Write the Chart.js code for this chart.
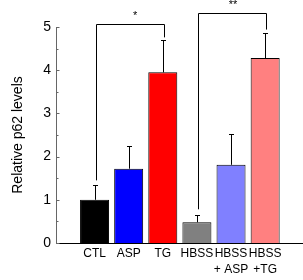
<!DOCTYPE html>
<html>
<head>
<meta charset="utf-8">
<script src="https://cdn.jsdelivr.net/npm/chart.js@4/dist/chart.umd.min.js"></script>
<style>
html,body{margin:0;padding:0;background:#fff;}
#wrap{width:303px;height:280px;}
</style>
</head>
<body>
<div id="wrap"><canvas id="c" width="303" height="280"></canvas></div>
<script>
const categories = [["CTL"], ["ASP"], ["TG"], ["HBSS"], ["HBSS", "+ ASP"], ["HBSS", "+TG"]];
const values = [1.0, 1.72, 3.95, 0.48, 1.81, 4.28];
const errorsUp = [0.35, 0.52, 0.74, 0.16, 0.72, 0.57];
const barColors = ["#000000", "#0000ff", "#ff0000", "#808080", "#8080ff", "#ff8080"];
const yTicks = [0, 1, 2, 3, 4, 5];
const yMinorTicks = [0.5, 1.5, 2.5, 3.5, 4.5];
// significance brackets: from/to category index, top value, leg end values, star text and position
const brackets = [
  {from: 0, to: 2, top: 5.06, leftEnd: 1.45, rightEnd: 4.76, text: "*", textX: 1.19, textY: 5.25},
  {from: 3, to: 5, top: 5.32, leftEnd: 0.78, rightEnd: 4.94, text: "**", textX: 4.06, textY: 5.5}
];

const FONT = "'Liberation Sans', Arial, sans-serif";

const extras = {
  id: 'extras',
  afterDatasetsDraw(chart) {
    const ctx = chart.ctx;
    const xs = chart.scales.x, ys = chart.scales.y;
    ctx.save();
    ctx.strokeStyle = '#000';
    ctx.lineWidth = 1;
    values.forEach((v, i) => {
      const x = Math.round(xs.getPixelForValue(i)) + 0.5;
      const y0 = ys.getPixelForValue(v);
      const y1 = Math.round(ys.getPixelForValue(v + errorsUp[i])) + 0.5;
      ctx.beginPath();
      ctx.moveTo(x, y0);
      ctx.lineTo(x, y1);
      ctx.moveTo(x - 2.5, y1);
      ctx.lineTo(x + 2.5, y1);
      ctx.stroke();
    });
    ctx.restore();
  },
  afterDraw(chart) {
    const ctx = chart.ctx;
    const xs = chart.scales.x, ys = chart.scales.y;
    const axX = Math.round(chart.chartArea.left) + 0.5;
    ctx.save();
    ctx.strokeStyle = '#666';
    ctx.lineWidth = 1;
    yTicks.forEach(t => {
      const y = Math.round(ys.getPixelForValue(t)) + 0.5;
      ctx.beginPath(); ctx.moveTo(axX, y); ctx.lineTo(axX + 3, y); ctx.stroke();
    });
    yMinorTicks.forEach(t => {
      const y = Math.round(ys.getPixelForValue(t)) + 0.5;
      ctx.beginPath(); ctx.moveTo(axX, y); ctx.lineTo(axX + 2, y); ctx.stroke();
    });
    ctx.strokeStyle = '#000';
    ctx.fillStyle = '#000';
    ctx.font = '11px ' + FONT;
    ctx.textAlign = 'center';
    ctx.textBaseline = 'middle';
    brackets.forEach(b => {
      const xl = Math.round(xs.getPixelForValue(b.from)) + 1.5;
      const xr = Math.round(xs.getPixelForValue(b.to)) + 1.5;
      const yt = Math.round(ys.getPixelForValue(b.top)) + 0.5;
      ctx.beginPath();
      ctx.moveTo(xl, ys.getPixelForValue(b.leftEnd));
      ctx.lineTo(xl, yt);
      ctx.lineTo(xr, yt);
      ctx.lineTo(xr, ys.getPixelForValue(b.rightEnd));
      ctx.stroke();
      ctx.fillText(b.text, xs.getPixelForValue(b.textX), ys.getPixelForValue(b.textY));
    });
    ctx.restore();
  }
};

new Chart(document.getElementById('c'), {
  type: 'bar',
  data: {
    datasets: [{
      data: values.map((v, i) => ({x: i, y: v})),
      backgroundColor: barColors,
      borderColor: '#000',
      borderWidth: 1,
      barPercentage: 0.85,
      categoryPercentage: 1.0
    }]
  },
  options: {
    responsive: false,
    animation: false,
    devicePixelRatio: 1,
    layout: {padding: {left: 8, right: 1, top: 27, bottom: 3}},
    plugins: {legend: {display: false}, tooltip: {enabled: false}},
    scales: {
      x: {
        type: 'linear',
        offset: false,
        min: -1.13,
        max: 6.08,
        afterBuildTicks: s => { s.ticks = categories.map((_, i) => ({value: i})); },
        afterFit: s => { s.height = 34; },
        grid: {display: false, drawTicks: false, offset: false},
        border: {display: true, color: '#000', width: 1},
        ticks: {
          autoSkip: false, maxRotation: 0, minRotation: 0, padding: 3,
          color: '#000',
          font: {family: FONT, size: 12, lineHeight: 1.3},
          callback: v => categories[v]
        }
      },
      y: {
        min: 0,
        max: 5,
        afterBuildTicks: s => { s.ticks = yTicks.map(v => ({value: v})); },
        afterFit: s => { s.width = 48; },
        grid: {display: false, drawTicks: false},
        border: {display: true, color: '#666', width: 1},
        ticks: {color: '#000', padding: 5, font: {family: FONT, size: 14}},
        title: {
          display: true, text: 'Relative p62 levels', color: '#000',
          font: {family: FONT, size: 14}, padding: {top: 2, bottom: 16}
        }
      }
    }
  },
  plugins: [extras]
});
</script>
</body>
</html>
